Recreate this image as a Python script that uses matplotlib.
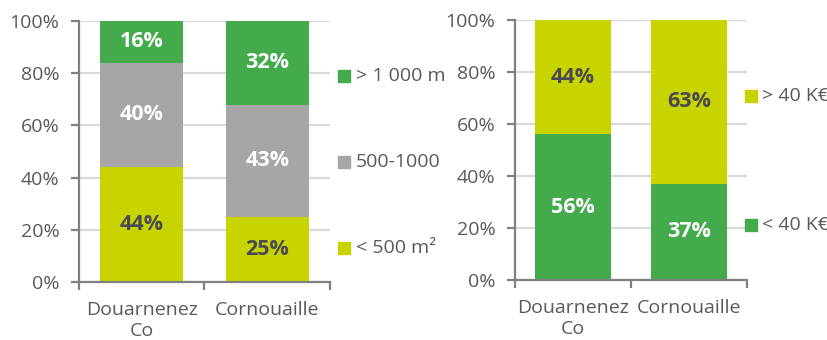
import matplotlib.pyplot as plt
from matplotlib.patches import Rectangle

plt.rcParams['font.family'] = ['Open Sans', 'DejaVu Sans']

# data
places = ['Douarnenez\nCo', 'Cornouaille']

surface_labels = ['< 500 m²', '500-1000', '> 1 000 m']
surface_small = [44, 25]
surface_mid = [40, 43]
surface_big = [16, 32]

income_labels = ['< 40 K€', '> 40 K€']
income_low = [56, 37]
income_high = [44, 63]

GREEN = '#43ab4b'
GREY = '#a6a6a6'
LIME = '#c8d400'
TEXT = '#595959'
DARK = '#4a4a55'

W, H = 828, 340
fig = plt.figure(figsize=(W / 100, H / 100), dpi=100)


def px_axes(x0, x1, ytop, ybot):
    return fig.add_axes([x0 / W, (H - ybot) / H, (x1 - x0) / W, (ybot - ytop) / H])


def style_axes(ax):
    ax.set_xlim(-0.5, 1.5)
    ax.set_ylim(0, 100)
    ax.set_yticks(range(0, 101, 20))
    ax.set_yticklabels([f'{v}%' for v in range(0, 101, 20)])
    ax.set_xticks([0, 1])
    ax.set_xticklabels(places)
    ax.set_xticks([-0.5, 0.5, 1.5], minor=True)
    ax.tick_params(axis='x', which='major', length=0, pad=14, labelsize=14, colors=TEXT)
    ax.tick_params(axis='x', which='minor', length=6, width=1.6, color='#808080')
    ax.tick_params(axis='y', length=6, width=1.6, color='#808080', pad=8,
                   labelsize=14, labelcolor=TEXT)
    for s in ['top', 'right']:
        ax.spines[s].set_visible(False)
    for s in ['left', 'bottom']:
        ax.spines[s].set_color('#808080')
        ax.spines[s].set_linewidth(1.6)
    ax.grid(axis='y', color='#d9d9d9', linewidth=1.6)
    ax.set_axisbelow(True)


def stacked(ax, series, colors, txtcolors, width):
    bottom = [0, 0]
    for vals, c, tc in zip(series, colors, txtcolors):
        bars = ax.bar([0, 1], vals, width=width, bottom=bottom, color=c, zorder=2)
        for b, v, b0 in zip(bars, vals, bottom):
            ax.text(b.get_x() + b.get_width() / 2, b0 + v / 2, f'{v}%',
                    ha='center', va='center', fontsize=15.5, fontweight='bold',
                    color=tc, zorder=3)
        bottom = [a + v for a, v in zip(bottom, vals)]


def legend(ax, labels, colors, ys, x0, sw, sh, tx):
    # legend drawn by hand, squares in axes coordinates
    for lab, c, y in zip(labels, colors, ys):
        ax.add_patch(Rectangle((x0, y - sh / 2), sw, sh, transform=ax.transAxes,
                               color=c, clip_on=False))
        ax.text(tx, y, lab, transform=ax.transAxes, ha='left', va='center',
                fontsize=14, color=TEXT, clip_on=False)


# left chart
ax1 = px_axes(79, 330, 21, 282)
style_axes(ax1)
stacked(ax1, [surface_small, surface_mid, surface_big], [LIME, GREY, GREEN],
        [DARK, 'white', 'white'], 0.66)
legend(ax1, surface_labels, [LIME, GREY, GREEN], [0.13, 0.46, 0.789],
       1.032, 0.048, 0.046, 1.104)

# right chart
ax2 = px_axes(515, 747, 20, 280)
style_axes(ax2)
stacked(ax2, [income_low, income_high], [GREEN, LIME], ['white', DARK], 0.66)
legend(ax2, income_labels, [GREEN, LIME], [0.212, 0.708],
       0.991, 0.052, 0.046, 1.065)

fig.savefig('out.png', dpi=100)
